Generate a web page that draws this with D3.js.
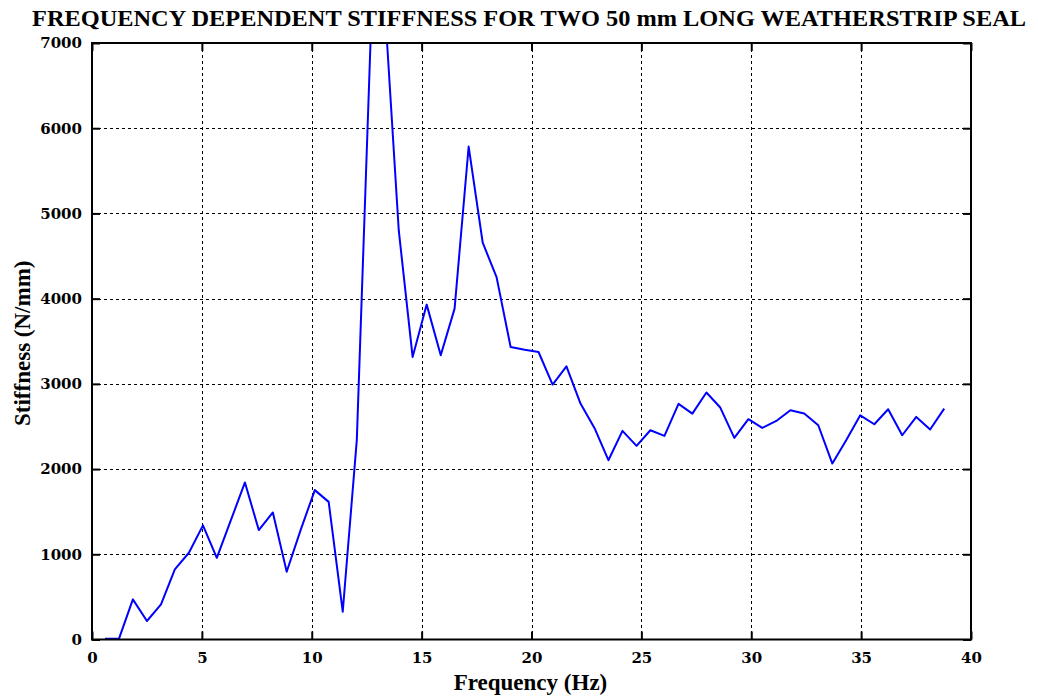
<!DOCTYPE html>
<html>
<head>
<meta charset="utf-8">
<script src="https://cdn.jsdelivr.net/npm/d3@7"></script>
<style>
  html, body { margin: 0; padding: 0; background: #fff; }
  svg { display: block; }
</style>
</head>
<body>
<svg id="chart" width="1038" height="696"></svg>
<script>
// Measured excitation frequencies (Hz)
const frequency = [
  0.59, 1.23, 1.86, 2.50, 3.14, 3.77, 4.41, 5.05, 5.68, 6.32,
  6.96, 7.59, 8.23, 8.86, 9.50, 10.14, 10.77, 11.41, 12.05, 12.68,
  13.32, 13.96, 14.59, 15.23, 15.87, 16.50, 17.14, 17.78, 18.41, 19.05,
  19.69, 20.32, 20.96, 21.59, 22.23, 22.87, 23.50, 24.14, 24.78, 25.41,
  26.05, 26.69, 27.32, 27.96, 28.59, 29.23, 29.87, 30.50, 31.14, 31.78,
  32.41, 33.05, 33.69, 34.32, 34.96, 35.60, 36.23, 36.87, 37.51, 38.14,
  38.78
];
// Dynamic stiffness at each frequency (N/mm)
const stiffness = [
  10, 10, 471, 217, 413, 823, 1018, 1339, 959, 1400,
  1843, 1284, 1491, 795, 1290, 1753, 1615, 326, 2340, 7050,
  7450, 4800, 3316, 3930, 3335, 3883, 5785, 4656, 4253, 3433,
  3400, 3374, 2992, 3206, 2769, 2480, 2104, 2448, 2272, 2456,
  2389, 2765, 2651, 2898, 2722, 2366, 2585, 2483, 2565, 2690,
  2651, 2514, 2065, 2338, 2631, 2526, 2702, 2397, 2612, 2464,
  2710
];
const xTicks = [0, 5, 10, 15, 20, 25, 30, 35, 40];
const yTicks = [0, 1000, 2000, 3000, 4000, 5000, 6000, 7000];

const titleText = "FREQUENCY DEPENDENT STIFFNESS FOR TWO 50 mm LONG WEATHERSTRIP SEAL";
const xLabel = "Frequency (Hz)";
const yLabel = "Stiffness (N/mm)";

const svg = d3.select("#chart");
const plotLeft = 92, plotRight = 971, plotTop = 43, plotBottom = 639.5;

const x = d3.scaleLinear().domain([0, 40]).range([plotLeft, plotRight]);
const y = d3.scaleLinear().domain([0, 7000]).range([plotBottom, plotTop]);

const tickFont = "'DejaVu Serif', serif";
const labelFont = "'Liberation Serif', 'Times New Roman', serif";
const plain = d3.format("d");

// Dotted grid
const grid = svg.append("g").attr("stroke", "#000").attr("stroke-width", 1)
  .attr("stroke-dasharray", "3,3").attr("shape-rendering", "crispEdges");
grid.selectAll("line.vx").data(xTicks.slice(1, -1)).join("line")
  .attr("x1", d => Math.round(x(d)) + 0.5).attr("x2", d => Math.round(x(d)) + 0.5)
  .attr("y1", plotTop).attr("y2", plotBottom);
grid.selectAll("line.hy").data(yTicks.slice(1, -1)).join("line")
  .attr("x1", plotLeft).attr("x2", plotRight)
  .attr("y1", d => Math.round(y(d)) + 0.5).attr("y2", d => Math.round(y(d)) + 0.5);

// Data line, clipped to the plot box
svg.append("clipPath").attr("id", "plotClip").append("rect")
  .attr("x", plotLeft).attr("y", plotTop).attr("width", plotRight - plotLeft).attr("height", plotBottom - plotTop);

const pts = frequency.map((f, i) => [f, stiffness[i]]);
svg.append("path")
  .datum(pts)
  .attr("clip-path", "url(#plotClip)")
  .attr("fill", "none")
  .attr("stroke", "#0000ff")
  .attr("stroke-width", 2)
  .attr("stroke-linejoin", "round")
  .attr("d", d3.line().x(d => x(d[0])).y(d => y(d[1])));

// Axes with inward ticks on all four sides
function styleAxis(g) {
  g.select(".domain").remove();
  g.selectAll(".tick line").attr("stroke", "#000").attr("stroke-width", 2);
}
function styleLabels(g) {
  g.selectAll("text").attr("font-family", tickFont).attr("font-weight", "bold")
    .attr("font-size", 15).attr("fill", "#000");
}
svg.append("g").attr("transform", `translate(0,${plotBottom})`)
  .call(d3.axisBottom(x).tickValues(xTicks).tickFormat(plain).tickSizeInner(-8).tickSizeOuter(0).tickPadding(13))
  .call(styleAxis).call(styleLabels);
svg.append("g").attr("transform", `translate(0,${plotTop})`)
  .call(d3.axisTop(x).tickValues(xTicks).tickSizeInner(-8).tickSizeOuter(0).tickFormat(""))
  .call(styleAxis);
svg.append("g").attr("transform", `translate(${plotLeft},0)`)
  .call(d3.axisLeft(y).tickValues(yTicks).tickFormat(plain).tickSizeInner(-8).tickSizeOuter(0).tickPadding(10))
  .call(styleAxis).call(styleLabels);
svg.append("g").attr("transform", `translate(${plotRight},0)`)
  .call(d3.axisRight(y).tickValues(yTicks).tickSizeInner(-8).tickSizeOuter(0).tickFormat(""))
  .call(styleAxis);

// Plot frame
svg.append("rect")
  .attr("x", plotLeft).attr("y", plotTop).attr("width", plotRight - plotLeft).attr("height", plotBottom - plotTop)
  .attr("fill", "none").attr("stroke", "#000").attr("stroke-width", 2);

// Title and axis labels
svg.append("text")
  .attr("x", 32).attr("y", 26)
  .attr("font-family", labelFont).attr("font-weight", "bold").attr("font-size", 24)
  .attr("textLength", 994).attr("lengthAdjust", "spacingAndGlyphs")
  .text(titleText);

svg.append("text")
  .attr("x", (plotLeft + plotRight) / 2 - 1).attr("y", 690)
  .attr("text-anchor", "middle")
  .attr("font-family", labelFont).attr("font-weight", "bold").attr("font-size", 23)
  .text(xLabel);

svg.append("text")
  .attr("transform", `translate(30,${(plotTop + plotBottom) / 2 + 2}) rotate(-90)`)
  .attr("text-anchor", "middle")
  .attr("font-family", labelFont).attr("font-weight", "bold").attr("font-size", 23)
  .text(yLabel);
</script>
</body>
</html>
